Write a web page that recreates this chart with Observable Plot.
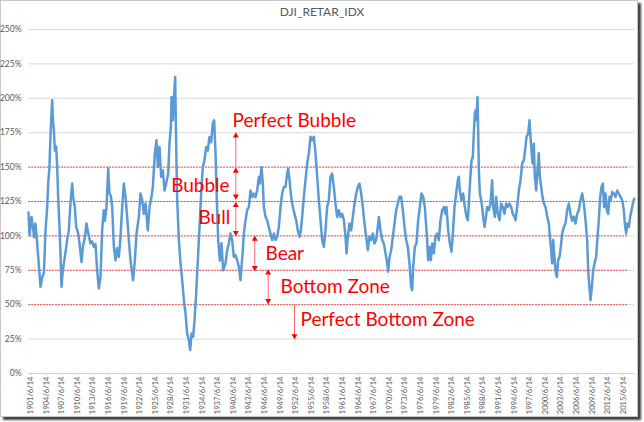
<!DOCTYPE html>
<html><head><meta charset="utf-8">
<script src="https://cdn.jsdelivr.net/npm/d3@7"></script>
<script src="https://cdn.jsdelivr.net/npm/@observablehq/plot@0.6"></script>
<style>
body{margin:0;background:#fff;}
#frame{position:absolute;left:0;top:0;width:636px;height:415px;border:1px solid #c8c8c8;box-shadow:3px 3px 2px rgba(0,0,0,0.75);background:#fff;}
#title{position:absolute;left:0;top:4px;width:644px;text-align:center;font:12px Lato, sans-serif;color:#595959;}
#chart{position:absolute;left:0;top:22px;}
</style></head><body>
<div id="frame"></div>
<div id="title">DJI_RETAR_IDX</div>
<div id="chart"></div>
<script>
// [decimal year, index %]
const series = [
[1901.07,117],[1901.26,100.5],[1901.64,113.8],[1901.9,106.5],[1902.16,99],[1902.4,109],[1902.73,94.7],[1902.93,84.7],[1903.18,72.9],[1903.37,63],[1903.7,70],[1904.02,72.9],[1904.34,104],[1904.66,121],[1904.85,138],[1905.1,150],[1905.3,174],[1905.62,198.6],[1905.75,185],[1905.94,177],[1906.13,162],[1906.39,165],[1906.58,150],[1906.77,128],[1907.03,106.5],[1907.22,87],[1907.41,63],[1907.67,75],[1908.05,84.7],[1908.5,97],[1908.82,104],[1909.14,124],[1909.46,138],[1909.66,128],[1909.98,121],[1910.23,106.5],[1910.62,102],[1910.87,94.7],[1911.26,81],[1911.52,92],[1911.9,99],[1912.22,109],[1912.54,102],[1912.99,94.7],[1913.31,96],[1913.63,92],[1913.95,94],[1914.27,75],[1914.59,61.8],[1914.91,70],[1915.23,104],[1915.55,118.7],[1915.75,111],[1916.07,121],[1916.39,149],[1916.64,130.8],[1916.9,129],[1917.16,121],[1917.48,92],[1917.8,82.3],[1918.12,91],[1918.44,84.7],[1918.76,99],[1919.08,121],[1919.4,138],
[1919.72,128.4],[1920.04,113.8],[1920.36,96.9],[1920.68,82.3],[1921.0,72.7],[1921.19,67.8],[1921.51,82],[1921.84,101.7],[1922.28,113.8],[1922.6,130.8],[1922.93,126],[1923.25,116],[1923.57,123.5],[1924.01,104],[1924.34,121],[1924.72,128.4],[1924.98,135.6],[1925.36,160],[1925.68,169.5],[1925.94,150],[1926.26,164.7],[1926.58,142.9],[1926.9,147.7],[1927.22,133],[1927.54,138],[1927.93,145.3],[1928.18,167],[1928.44,179],[1928.57,201],[1928.82,184],[1929.02,198.6],[1929.27,215.5],[1929.46,167],[1929.66,126],[1929.98,97],[1930.3,80],[1930.62,67.8],[1930.94,53.3],[1931.26,43.6],[1931.58,29],[1931.9,24.2],[1932.16,17],[1932.41,29],[1932.73,26.6],[1932.99,38.7],[1933.31,58],[1933.63,82.3],[1933.95,106.5],[1934.27,130.8],[1934.59,150],[1934.91,155],[1935.23,164.7],[1935.55,162],[1935.87,171.9],[1936.19,168],[1936.51,182],[1936.77,184],[1937.03,160],[1937.28,126],[1937.54,97],[1937.86,82],[1938.18,94.7],[1938.5,75],
[1938.95,80],[1939.27,89.6],[1939.59,94.5],[1939.91,101.7],[1940.23,97],[1940.55,84.7],[1940.87,86],[1941.19,82.3],[1941.51,77.5],[1941.83,67.8],[1942.03,77.5],[1942.28,89.6],[1942.48,101.7],[1942.8,111.4],[1943.12,118.7],[1943.44,121],[1943.76,133],[1944.08,128.2],[1944.4,130.8],[1944.72,128.2],[1945.04,133],[1945.36,142.9],[1945.55,138],[1945.87,150],[1946.13,138],[1946.32,121],[1946.64,113.8],[1946.96,111.4],[1947.28,106.5],[1947.6,101.7],[1947.92,97],[1948.24,101.7],[1948.57,97],[1948.89,99.4],[1949.21,106.5],[1949.53,121],[1949.85,130.8],[1950.17,135.6],[1950.49,135.6],[1950.81,145.3],[1951.0,149],[1951.26,140.5],[1951.58,128.4],[1951.9,121],[1952.22,116],[1952.54,111.4],[1952.86,104],[1953.18,99.4],[1953.44,104],[1953.69,113.8],[1954.01,128.4],[1954.33,140.5],[1954.65,152.6],[1954.98,160],[1955.3,172],[1955.62,169.5],[1955.94,172],[1956.26,160],[1956.58,142.9],[1956.9,126],[1957.22,111.4],[1957.54,97],[1957.86,92.1],[1958.18,104],[1958.5,121],
[1958.82,126],[1959.14,142.9],[1959.46,145.3],[1959.78,135.6],[1960.1,123.5],[1960.42,113.8],[1960.74,118.7],[1961.06,113.8],[1961.39,116],[1961.71,111.4],[1962.03,99.4],[1962.22,87.3],[1962.47,99.4],[1962.8,109],[1963.12,104],[1963.44,113.8],[1963.76,123.5],[1964.08,130.8],[1964.4,135.6],[1964.72,138],[1965.04,130.8],[1965.36,121],[1965.68,109],[1966.0,99.4],[1966.32,89.6],[1966.64,99.4],[1966.96,97],[1967.28,101.7],[1967.6,94.5],[1967.92,97],[1968.24,106.5],[1968.44,113.8],[1968.76,104],[1969.08,97],[1969.4,94.5],[1969.72,87.3],[1970.04,80],[1970.23,74],[1970.49,84.7],[1970.81,89.6],[1971.13,99.4],[1971.45,109],[1971.77,118.7],[1972.09,123.5],[1972.41,128.4],[1972.73,128.4],[1973.05,118.7],[1973.37,106.5],[1973.69,97],[1974.01,92],[1974.33,80],[1974.65,63],[1974.85,60.6],[1975.04,77.5],[1975.36,92],[1975.68,94.5],[1976.0,111.4],[1976.32,121],[1976.64,130.8],[1976.96,128.4],[1977.28,121],
[1977.73,96.9],[1977.92,82.3],[1978.18,92],[1978.44,82.3],[1978.69,94.5],[1979.01,87.3],[1979.33,99.4],[1979.65,101.7],[1979.97,96.9],[1980.29,111.4],[1980.62,118.7],[1980.94,121],[1981.26,116],[1981.45,121],[1981.77,104],[1982.09,94.5],[1982.41,88.5],[1982.67,101.7],[1982.99,121],[1983.31,130.8],[1983.63,140.5],[1983.82,143],[1984.01,133],[1984.33,126],[1984.65,130.8],[1984.97,121],[1985.29,113.8],[1985.55,111.4],[1985.74,123.5],[1986.0,140.5],[1986.26,155],[1986.51,157.3],[1986.7,174.4],[1986.9,189],[1987.03,191.3],[1987.22,184],[1987.41,201],[1987.54,177],[1987.67,148],[1987.86,130.8],[1988.12,126],[1988.31,121],[1988.5,113.8],[1988.76,106.5],[1988.95,111.4],[1989.27,121],[1989.59,118.7],[1989.91,123.5],[1990.23,140.5],[1990.42,121],[1990.74,113.8],[1991.0,128.4],[1991.32,116],[1991.64,111.4],[1991.96,123.5],[1992.28,121],[1992.6,116],[1992.92,123.5],[1993.24,121],[1993.56,123.5],[1993.88,121],[1994.2,116],[1994.53,113.8],[1994.72,111.4],[1995.04,121],[1995.36,133],[1995.68,140.5],[1996.0,152.6],[1996.32,155],
[1996.64,164.7],[1996.83,172],[1997.15,174.4],[1997.41,184],[1997.6,172],[1997.79,162.3],[1997.99,152.6],[1998.24,167],[1998.43,143],[1998.69,133],[1998.95,148],[1999.2,160],[1999.4,143],[1999.65,135.6],[1999.91,128.4],[2000.17,123.5],[2000.49,121],[2000.81,114],[2001.13,109],[2001.32,99.4],[2001.58,89.6],[2001.77,80],[2001.96,97],[2002.15,87.3],[2002.41,75],[2002.67,70],[2002.92,82.3],[2003.18,84.7],[2003.43,92],[2003.69,101.7],[2004.01,106.5],[2004.33,109],[2004.65,118.7],[2004.97,123.5],[2005.29,116],[2005.61,111],[2005.93,114],[2006.26,109],[2006.58,116],[2006.9,118.7],[2007.22,126],[2007.54,130.8],[2007.86,123.5],[2008.18,111.4],[2008.5,97],[2008.69,75],[2008.88,65.3],[2009.14,53.3],[2009.4,63],[2009.65,75],[2009.91,80],[2010.23,84.7],[2010.49,99.4],[2010.74,111.4],[2011.0,128.4],[2011.26,135.6],[2011.51,138],[2011.77,121],[2012.03,130.8],[2012.28,118.7],[2012.54,116],[2012.8,128.4],[2013.05,126],[2013.31,132],[2013.63,130.8],[2013.95,128.4],[2014.27,133],[2014.59,130.8],[2014.91,128.4],[2015.23,126],[2015.55,118.7],[2015.74,109],[2016.0,101.7],[2016.19,109],[2016.51,106.5],[2016.77,114],[2017.03,118.7],[2017.28,123.5],[2017.54,127]
];
const yTicks = [0,25,50,75,100,125,150,175,200,225,250];
const zoneLevels = [50,75,100,125,150];
const tickYears = d3.range(1901, 2016, 3); // labels "YYYY/6/14"
const xStart = 1901.065, xEnd = 2017.6, zoneEnd = 2016.45;
const title = "DJI_RETAR_IDX";
// zone annotations
const labels = [
  {text:"Perfect Bubble", year:1940.3, value:183.4},
  {text:"Bubble", year:1928.5, value:136.1},
  {text:"Bull", year:1933.76, value:113.1},
  {text:"Bear", year:1946.64, value:86.7},
  {text:"Bottom Zone", year:1949.53, value:62.7},
  {text:"Perfect Bottom Zone", year:1953.37, value:38.7}
];
const arrows = [
  {year:1940.93, lo:150, hi:175, headLo:false, headHi:true},
  {year:1940.93, lo:126.5, hi:149.5, headLo:true, headHi:true},
  {year:1940.93, lo:100, hi:124.5, headLo:true, headHi:true},
  {year:1944.58, lo:74.5, hi:100, headLo:true, headHi:true},
  {year:1947.16, lo:50.5, hi:75.5, headLo:true, headHi:true},
  {year:1952.22, lo:25, hi:50, headLo:true, headHi:false}
];

document.getElementById("title").textContent = title;
const toDate = y => { const yr = Math.floor(y), a = Date.UTC(yr,0,1), b = Date.UTC(yr+1,0,1); return new Date(a + (y-yr)*(b-a)); };
const data = series.map(([y,v]) => ({date: toDate(y), value: v}));
const tickDates = tickYears.map(y => new Date(Date.UTC(y,5,14)));
const arrowData = arrows.map(a => ({...a, date: toDate(a.year)}));
const upHeads = arrowData.filter(a => a.headHi).map(a => ({date:a.date, value:a.hi}));
const downHeads = arrowData.filter(a => a.headLo).map(a => ({date:a.date, value:a.lo}));
const labelData = labels.map(l => ({...l, date: toDate(l.year)}));
const red = "#ff0000";

const plot = Plot.plot({
  width: 644, height: 400,
  marginLeft: 28, marginRight: 10, marginTop: 7, marginBottom: 49,
  style: {background: "transparent", fontFamily: "Lato, sans-serif", overflow: "visible"},
  x: {type: "utc", domain: [toDate(xStart), toDate(xEnd)]},
  y: {domain: [0, 250]},
  marks: [
    Plot.gridY(yTicks, {stroke: "#d9d9d9", strokeOpacity: 1}),
    Plot.ruleY(zoneLevels, {x1: toDate(xStart), x2: toDate(zoneEnd), stroke: red, strokeOpacity: 0.6, strokeDasharray: "2,1", strokeWidth: 1}),
    Plot.ruleY([0], {stroke: "#cfcfcf"}),
    Plot.axisY(yTicks, {tickFormat: d => d + "%", tickSize: 0, tickPadding: 7, fontSize: 8.5, fill: "#595959", label: null}),
    Plot.axisX(tickDates, {tickFormat: d => `${d.getUTCFullYear()}/6/14`, tickRotate: -90, tickSize: 2, tickPadding: 1, fontSize: 7.6, fill: "#595959", stroke: "#cfcfcf", label: null}),
    Plot.line(data, {x: "date", y: "value", stroke: "#5b9bd5", strokeWidth: 2.5, strokeLinejoin: "round"}),
    Plot.link(arrowData, {x1: "date", x2: "date", y1: "lo", y2: "hi", stroke: "#ff6666", strokeWidth: 1}),
    Plot.dot(upHeads, {x: "date", y: "value", symbol: "triangle", r: 2.2, fill: red, stroke: "none", dy: 3.2}),
    Plot.dot(downHeads, {x: "date", y: "value", symbol: "triangle", r: 2.2, fill: red, stroke: "none", rotate: 180, dy: -3.2}),
    Plot.text(labelData, {x: "date", y: "value", text: "text", textAnchor: "start", lineAnchor: "middle", fill: red, fontSize: 19, fontFamily: "Lato, sans-serif"})
  ]
});
document.getElementById("chart").appendChild(plot);
</script>
</body></html>
